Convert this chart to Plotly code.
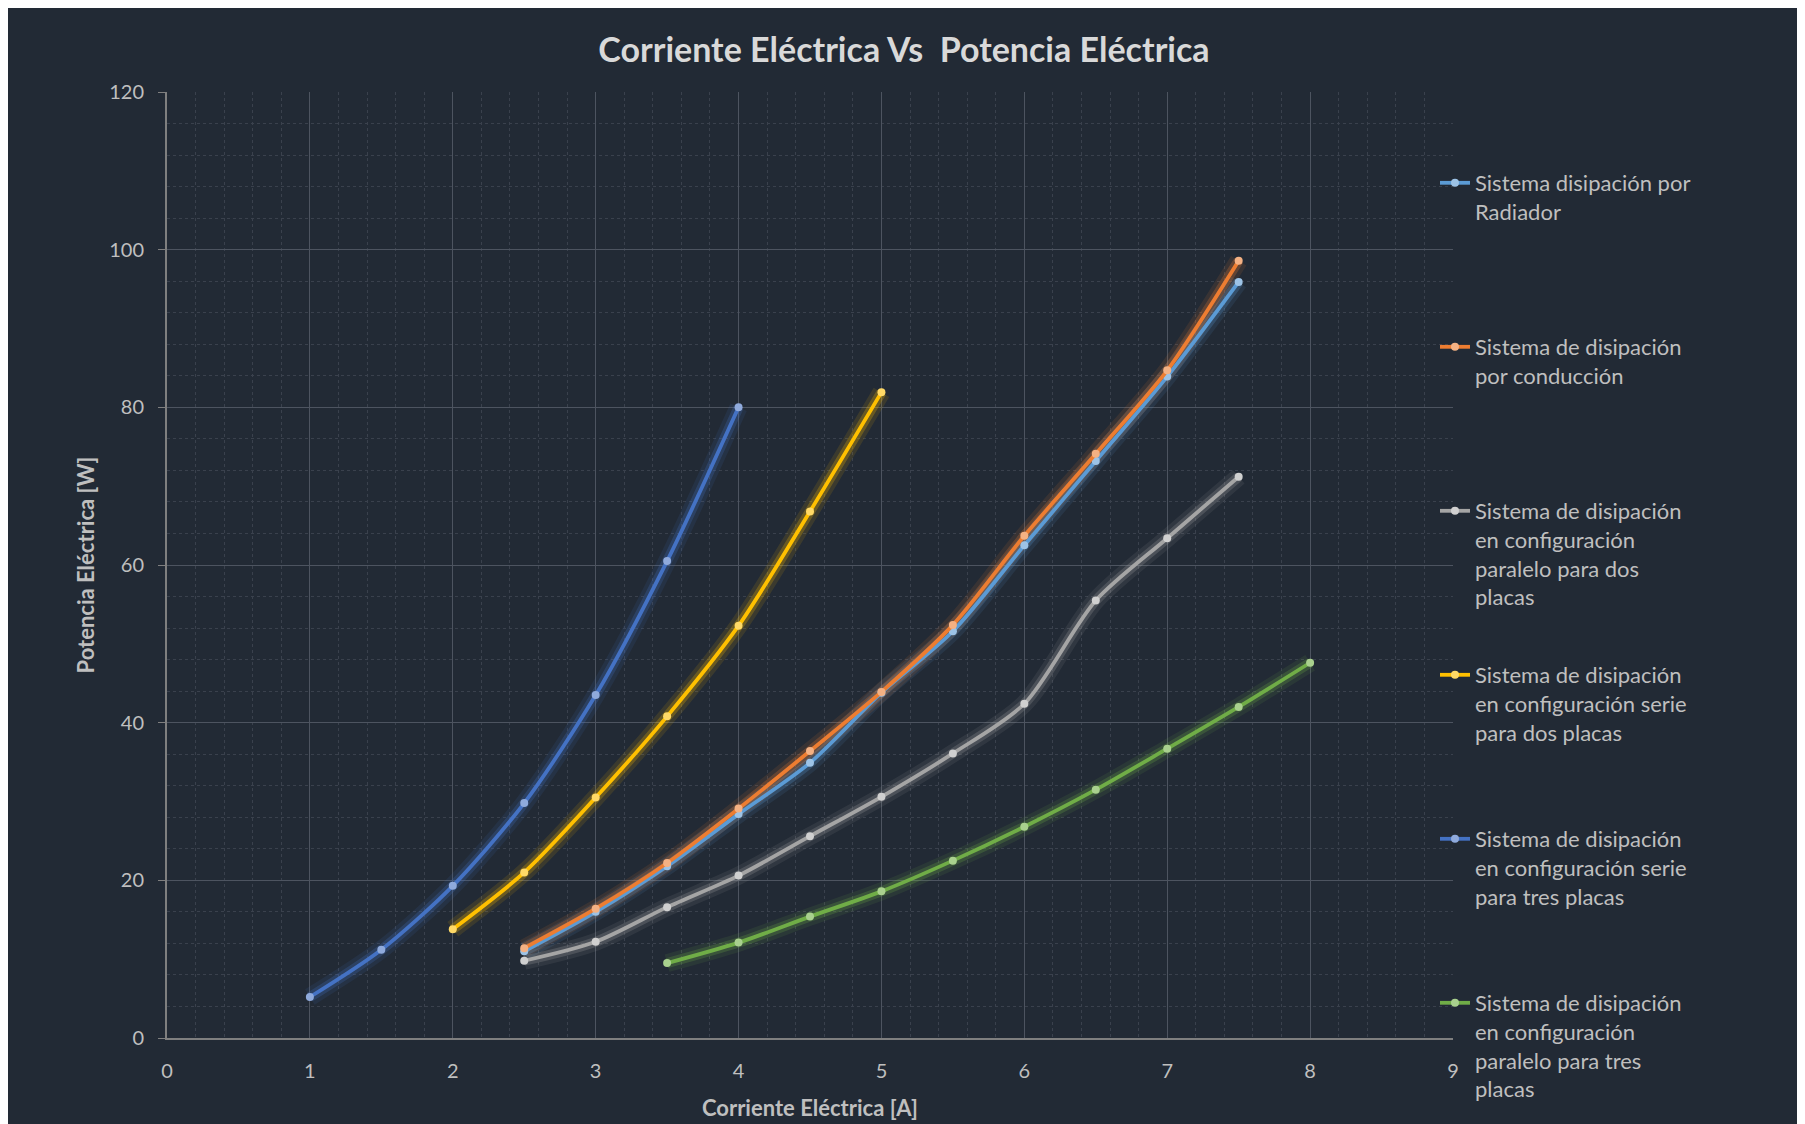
import plotly.graph_objects as go

# corriente [A] y potencia [W] por sistema
x_radiador = [2.5, 3, 3.5, 4, 4.5, 5, 5.5, 6, 6.5, 7, 7.5]
y_radiador = [11.0, 16.0, 21.8, 28.4, 34.9, 43.8, 51.6, 62.5, 73.2, 83.9, 95.9]

x_conduccion = [2.5, 3, 3.5, 4, 4.5, 5, 5.5, 6, 6.5, 7, 7.5]
y_conduccion = [11.4, 16.4, 22.2, 29.1, 36.4, 43.9, 52.4, 63.7, 74.1, 84.7, 98.6]

x_paralelo_dos = [2.5, 3, 3.5, 4, 4.5, 5, 5.5, 6, 6.5, 7, 7.5]
y_paralelo_dos = [9.8, 12.2, 16.6, 20.6, 25.6, 30.6, 36.1, 42.4, 55.5, 63.4, 71.2]

x_serie_dos = [2, 2.5, 3, 3.5, 4, 4.5, 5]
y_serie_dos = [13.8, 21.0, 30.5, 40.8, 52.3, 66.8, 81.9]

x_serie_tres = [1, 1.5, 2, 2.5, 3, 3.5, 4]
y_serie_tres = [5.2, 11.2, 19.3, 29.8, 43.5, 60.5, 80.0]

x_paralelo_tres = [3.5, 4, 4.5, 5, 5.5, 6, 6.5, 7, 7.5, 8]
y_paralelo_tres = [9.5, 12.1, 15.4, 18.6, 22.5, 26.8, 31.5, 36.7, 42.0, 47.6]

x_ticks = [0, 1, 2, 3, 4, 5, 6, 7, 8, 9]
y_ticks = [0, 20, 40, 60, 80, 100, 120]

series = [
    ("Sistema disipación por<br>Radiador", x_radiador, y_radiador, "#5B9BD5", "#9DC3E6"),
    ("Sistema de disipación<br>por conducción", x_conduccion, y_conduccion, "#ED7D31", "#F4B183"),
    ("Sistema de disipación<br>en configuración<br>paralelo para dos<br>placas", x_paralelo_dos, y_paralelo_dos, "#A5A5A5", "#D0D0D0"),
    ("Sistema de disipación<br>en configuración serie<br>para dos placas", x_serie_dos, y_serie_dos, "#FFC000", "#FFD966"),
    ("Sistema de disipación<br>en configuración serie<br>para tres placas", x_serie_tres, y_serie_tres, "#4472C4", "#8FAADC"),
    ("Sistema de disipación<br>en configuración<br>paralelo para tres<br>placas", x_paralelo_tres, y_paralelo_tres, "#70AD47", "#A9D18E"),
]

BG = "#222A35"
TXT = "#BFBFBF"
W, H = 1792, 1124
L, R, T, B = 159, 347, 84, 94

fig = go.Figure()

# soft glow under each line
for name, xs, ys, col, mcol in series:
    for w, op in [(18, 0.11), (10, 0.24)]:
        fig.add_trace(go.Scatter(x=xs, y=ys, mode="lines", line=dict(color=col, width=w, shape="spline", smoothing=0.8),
                                 opacity=op, showlegend=False, hoverinfo="skip"))

for i, (name, xs, ys, col, mcol) in enumerate(series):
    n_lines = name.count("<br>") + 1
    padded = name + "<br> " * (5 - n_lines) if i < len(series) - 1 else name
    fig.add_trace(go.Scatter(
        x=xs, y=ys, name=padded, mode="lines+markers",
        line=dict(color=col, width=3.8, shape="spline", smoothing=0.8),
        marker=dict(color=mcol, size=8),
        legendgroup=f"g{i}",
    ))

fig.update_layout(
    width=W, height=H,
    paper_bgcolor=BG, plot_bgcolor=BG,
    margin=dict(l=L, r=R, t=T, b=B, autoexpand=False),
    font=dict(family="Lato, Open Sans, sans-serif", color=TXT, size=20),
    title=dict(text="<b>Corriente Eléctrica Vs\u00a0 Potencia Eléctrica</b>",
               x=0.5, xanchor="center", y=1 - 42 / H, yanchor="middle", yref="container",
               font=dict(size=34, color="#D9D9D9")),
    legend=dict(x=0.986, xanchor="left", y=1 - 154 / H, yanchor="top",
                yref="container", maxheight=1.0, bgcolor="rgba(0,0,0,0)", valign="top",
                tracegroupgap=18, font=dict(size=22, color=TXT)),
    showlegend=True,
)

fig.update_xaxes(
    range=[0, 9], tickvals=x_ticks, showline=True, linecolor="#7F7F7F", linewidth=2,
    showgrid=True, gridcolor="#4D5460", gridwidth=1, zeroline=False,
    minor=dict(dtick=0.2, showgrid=True, gridcolor="#3A414D", griddash="dot"),
    ticks="", ticklabelstandoff=14, tickfont=dict(size=20, color=TXT),
    title=dict(text="<b>Corriente Eléctrica [A]</b>", standoff=20, font=dict(size=22, color=TXT)),
)
fig.update_yaxes(
    range=[0, 120], tickvals=y_ticks, showline=True, linecolor="#7F7F7F", linewidth=2,
    showgrid=True, gridcolor="#4D5460", gridwidth=1, zeroline=False,
    minor=dict(dtick=4, showgrid=True, gridcolor="#3A414D", griddash="dot"),
    ticks="outside", ticklen=7, tickcolor="#7F7F7F", ticklabelstandoff=10,
    tickfont=dict(size=20, color=TXT),
    title=dict(text="<b>Potencia Eléctrica [W]</b>", standoff=8, font=dict(size=22, color=TXT)),
)

fig.write_html("out.html")
